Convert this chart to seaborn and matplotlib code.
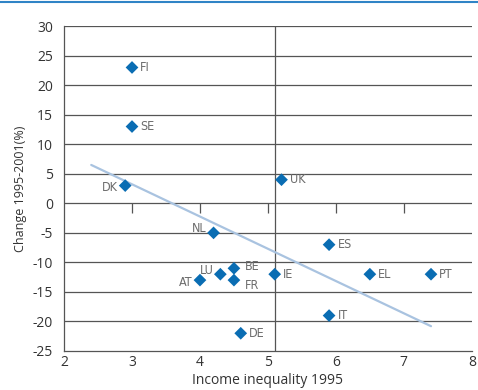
import numpy as np
import pandas as pd
import matplotlib
matplotlib.use("Agg")
import matplotlib.pyplot as plt
import seaborn as sns
from matplotlib.lines import Line2D

# ── Data ──────────────────────────────────────────────────────────────────────
countries = ["FI", "SE", "DK", "UK", "NL", "LU", "BE", "FR", "AT", "IE",
             "DE", "ES", "EL", "PT", "IT"]
inequality = [3.0, 3.0, 2.9, 5.2, 4.2, 4.3, 4.5, 4.5, 4.0, 5.1,
              4.6, 5.9, 6.5, 7.4, 5.9]
change = [23, 13, 3, 4, -5, -12, -11, -13, -13, -12,
          -22, -7, -12, -12, -19]

trend_x = [2.4, 7.4]
trend_y = [6.5, -20.8]
cross_x = 5.1

df = pd.DataFrame({"country": countries, "x": inequality, "y": change})

# label placement (points offset, ha)
label_pos = {
    "DK": (-5, -1, "right"), "NL": (-5, 3, "right"), "LU": (-5, 3, "right"),
    "AT": (-5, -2, "right"), "BE": (8, 1, "left"), "FR": (8, -4, "left"),
}

sns.set_style("white")
plt.rcParams["font.family"] = ["Open Sans", "DejaVu Sans"]
plt.rcParams["axes.unicode_minus"] = False

fig = plt.figure(figsize=(4.78, 3.90), dpi=100)
ax = fig.add_axes([0.134, 0.100, 0.853, 0.833])

blue = "#0a6db3"
grid_c = "#555555"

# gridlines
for v in range(-20, 31, 5):
    ax.axhline(v, color=grid_c, lw=0.9, zorder=0)
ax.axvline(cross_x, color=grid_c, lw=0.9, zorder=0)
ax.vlines([3, 4, 5, 6, 7], 0, -1.6, color=grid_c, lw=0.9, zorder=0)

ax.plot(trend_x, trend_y, color="#a9c3e0", lw=1.6, zorder=1)

sns.scatterplot(data=df, x="x", y="y", marker="D", s=42, color=blue,
                edgecolor="none", ax=ax, zorder=3)

for c, x, y in zip(countries, inequality, change):
    dx, dy, ha = label_pos.get(c, (6, 0, "left"))
    ax.annotate(c, (x, y), xytext=(dx, dy), textcoords="offset points",
                ha=ha, va="center", fontsize=9, color="#6b6b6b",
                family=["Liberation Sans Narrow", "DejaVu Sans"],
                fontstretch="condensed")

ax.set_xlim(2, 8)
ax.set_ylim(-25, 30)
ax.set_xticks(range(2, 9))
ax.set_yticks(range(-25, 31, 5))
ax.tick_params(length=0, labelsize=10, colors="#333333")
ax.tick_params(axis="y", pad=8)
ax.tick_params(axis="x", pad=3)
ax.set_xlabel("Income inequality 1995", fontsize=10, color="#333333", labelpad=2)
ax.set_ylabel("Change 1995-2001(%)", fontsize=9, color="#333333", labelpad=4)

for side in ["top", "right"]:
    ax.spines[side].set_visible(False)
for side in ["left", "bottom"]:
    ax.spines[side].set_color(grid_c)
    ax.spines[side].set_linewidth(0.9)

# blue rule across the top of the page
fig.add_artist(Line2D([0, 1], [0.994, 0.994], color="#2f84c6", lw=1.5))

fig.savefig("out.png", dpi=100)
